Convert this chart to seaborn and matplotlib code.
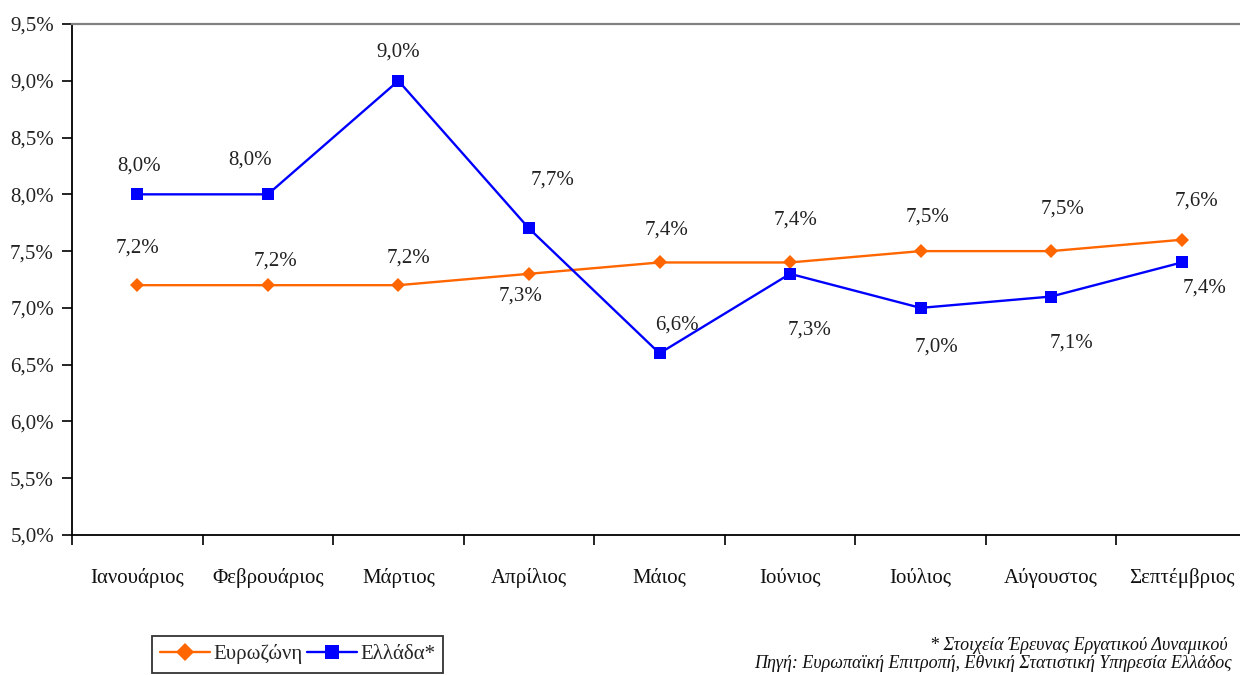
import matplotlib
matplotlib.use("Agg")
import matplotlib.pyplot as plt
import seaborn as sns
import pandas as pd

months = ["Ιανουάριος", "Φεβρουάριος", "Μάρτιος", "Απρίλιος", "Μάιος",
          "Ιούνιος", "Ιούλιος", "Αύγουστος", "Σεπτέμβριος"]
eurozone = [7.2, 7.2, 7.2, 7.3, 7.4, 7.4, 7.5, 7.5, 7.6]
greece = [8.0, 8.0, 9.0, 7.7, 6.6, 7.3, 7.0, 7.1, 7.4]
series_names = ["Ευρωζώνη", "Ελλάδα*"]
y_ticks = [5.0, 5.5, 6.0, 6.5, 7.0, 7.5, 8.0, 8.5, 9.0, 9.5]
y_tick_labels = ["5,0%", "5,5%", "6,0%", "6,5%", "7,0%", "7,5%", "8,0%", "8,5%", "9,0%", "9,5%"]
footnotes = ["* Στοιχεία Έρευνας Εργατικού Δυναμικού",
             "Πηγή: Ευρωπαϊκή Επιτροπή, Εθνική Στατιστική Υπηρεσία Ελλάδος"]

# label offsets in pixels (dx, dy), dy positive upward
euro_off = [(0, 37), (8, 24), (10, 27), (-8, -22), (7, 32), (6, 42), (7, 34), (11, 42), (15, 39)]
gr_off = [(2, 28), (-18, 34), (0, 29), (24, 48), (17, 28), (20, -56), (16, -39), (20, -47), (23, -26)]

sns.set_style("ticks")
plt.rcParams["font.family"] = ["Liberation Serif", "DejaVu Serif"]

fig = plt.figure(figsize=(12.4, 6.75), dpi=100)
ax = fig.add_axes([72 / 1240, 1 - 535 / 675, (1247 - 72) / 1240, (535 - 24) / 675])

x = list(range(len(months)))
df_e = pd.DataFrame({"x": x, "v": eurozone})
df_g = pd.DataFrame({"x": x, "v": greece})

sns.lineplot(data=df_e, x="x", y="v", ax=ax, color="#FF6600", marker="D",
             markersize=7.5, markeredgewidth=0, linewidth=1.7, label=series_names[0])
sns.lineplot(data=df_g, x="x", y="v", ax=ax, color="#0000FF", marker="s",
             markersize=8.5, markeredgewidth=0, linewidth=1.7, label=series_names[1])

def fmt(v):
    return f"{v:.1f}".replace(".", ",") + "%"

for xi, v, (dx, dy) in zip(x, eurozone, euro_off):
    ax.annotate(fmt(v), (xi, v), xytext=(dx, dy), textcoords="offset pixels",
                ha="center", va="center", fontsize=15, color="#222222")
for xi, v, (dx, dy) in zip(x, greece, gr_off):
    ax.annotate(fmt(v), (xi, v), xytext=(dx, dy), textcoords="offset pixels",
                ha="center", va="center", fontsize=15, color="#222222")

ax.set_xlim(-0.5, len(months) - 0.5)
ax.set_ylim(5.0, 9.5)
ax.set_yticks(y_ticks)
ax.set_yticklabels(y_tick_labels, fontsize=15, color="#222222")
ax.set_xticks(x)
ax.set_xticklabels(months, fontsize=15, color="#111111")
ax.set_xticks([i - 0.5 for i in range(len(months) + 1)], minor=True)
ax.tick_params(axis="x", which="major", length=0, pad=24)
ax.tick_params(axis="x", which="minor", length=7, width=1.2, color="black", direction="out")
ax.tick_params(axis="y", length=7, width=1.2, color="black", direction="out", pad=6)
ax.set_xlabel("")
ax.set_ylabel("")

for s in ["left", "bottom"]:
    ax.spines[s].set_color("black")
    ax.spines[s].set_linewidth(1.3)
ax.spines["top"].set_visible(True)
ax.spines["top"].set_color("#808080")
ax.spines["top"].set_linewidth(1.6)
ax.spines["right"].set_visible(False)

ax.get_legend().remove()
handles, labels = ax.get_legend_handles_labels()
leg = fig.legend(handles, labels, loc="upper left", bbox_to_anchor=(152 / 1240, 1 - 636 / 675),
                 ncol=2, fontsize=15, frameon=True, fancybox=False, handlelength=2.4,
                 columnspacing=0.2, handletextpad=0.15, borderpad=0.4, borderaxespad=0,
                 markerscale=1.2)
leg.get_frame().set_edgecolor("black")
leg.get_frame().set_linewidth(1.3)

fig.text(1228 / 1240, 1 - 645 / 675, footnotes[0], ha="right", va="center",
         fontsize=13, style="italic", color="#111111")
fig.text(1232 / 1240, 1 - 664 / 675, footnotes[1], ha="right", va="center",
         fontsize=13, style="italic", color="#111111")

fig.savefig("out.png", dpi=100, facecolor="white")
